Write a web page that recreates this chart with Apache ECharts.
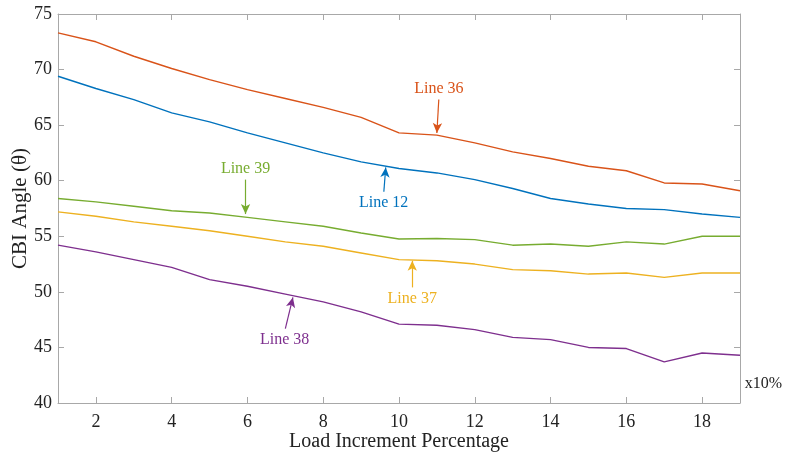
<!DOCTYPE html>
<html lang="en">
<head>
    <meta charset="UTF-8">
    <title>CBI Angle</title>
    <style>
        body{ margin:0; background:#fff; }
        #main{ width:785px; height:457px; }
    </style>
</head>
<body>
<div id="main"></div>
<script src="https://cdn.jsdelivr.net/npm/echarts@6/dist/echarts.min.js"></script>
<script>
    // x: load increment (x10%)
    var steps = [1,2,3,4,5,6,7,8,9,10,11,12,13,14,15,16,17,18,19];
    var line36 = [73.3,72.5,71.2,70.1,69.1,68.2,67.4,66.6,65.7,64.3,64.1,63.4,62.6,62.0,61.3,60.9,59.8,59.7,59.1];
    var line12 = [69.4,68.3,67.3,66.1,65.3,64.3,63.4,62.5,61.7,61.1,60.7,60.1,59.3,58.4,57.9,57.5,57.4,57.0,56.7];
    var line39 = [58.4,58.1,57.7,57.3,57.1,56.7,56.3,55.9,55.3,54.75,54.8,54.7,54.2,54.3,54.1,54.5,54.3,55.0,55.0];
    var line37 = [57.2,56.8,56.3,55.9,55.5,55.0,54.5,54.1,53.5,52.9,52.8,52.5,52.0,51.9,51.6,51.7,51.3,51.7,51.7];
    var line38 = [54.2,53.6,52.9,52.2,51.1,50.5,49.8,49.1,48.2,47.1,47.0,46.6,45.9,45.7,45.0,44.9,43.7,44.5,44.3];

    var names  = ['Line 36','Line 12','Line 39','Line 37','Line 38'];
    var colors = ['#D95319','#0072BD','#77AC30','#EDB120','#7E2F8E'];
    // arrow [x, yFrom, xTo, yTo] for each label, label is drawn at the arrow's start
    var arrows = [
        [11.05, 67.3, 11.0, 64.3],
        [9.6, 59.0, 9.65, 61.2],
        [5.95, 60.1, 5.95, 57.0],
        [10.35, 50.4, 10.35, 52.8],
        [7.0, 46.7, 7.2, 49.5]
    ];

    var font = '"Liberation Serif", "Times New Roman", serif';
    var mychart = echarts.init(document.getElementById("main"));

    var all = [line36, line12, line39, line37, line38];
    var series = [];
    for (var i = 0; i < all.length; i++) {
        var pts = [];
        for (var j = 0; j < steps.length; j++) {
            pts.push([steps[j], all[i][j]]);
        }
        var a = arrows[i];
        series.push({
            name: names[i],
            type: 'line',
            data: pts,
            showSymbol: false,
            symbol: 'none',
            lineStyle: {color: colors[i], width: 1.4},
            itemStyle: {color: colors[i]},
            z: 3,
            markLine: {
                silent: true,
                symbol: ['none', 'arrow'],
                symbolSize: [7, 10],
                lineStyle: {color: colors[i], width: 1.2, type: 'solid'},
                label: {
                    show: true,
                    position: 'start',
                    formatter: names[i],
                    color: colors[i],
                    fontFamily: font,
                    fontSize: 16,
                    distance: 3
                },
                data: [[{coord: [a[0], a[1]]}, {coord: [a[2], a[3]]}]]
            }
        });
    }

    var boxLine = {show: true, lineStyle: {color: '#a8a8a8', width: 1}};
    var option = {
        animation: false,
        backgroundColor: '#fff',
        grid: {left: 58, right: 45, top: 14, bottom: 54, containLabel: false, outerBoundsMode: 'none'},
        graphic: [{
            type: 'text',
            right: 3,
            top: 376,
            style: {text: 'x10%', font: '16px ' + font, fill: '#222'}
        }],
        xAxis: [{
            type: 'value',
            min: 1,
            max: 19,
            splitNumber: 9,
            name: 'Load Increment Percentage',
            nameLocation: 'middle',
            nameGap: 29,
            nameMoveOverlap: false,
            nameTextStyle: {fontFamily: font, fontSize: 20, color: '#222'},
            axisLine: boxLine,
            axisTick: {show: true, inside: true, length: 6, lineStyle: {color: '#a8a8a8'}},
            axisLabel: {fontFamily: font, fontSize: 18, color: '#222', margin: 10, showMinLabel: false, showMaxLabel: false},
            splitLine: {show: false}
        }, {
            type: 'value',
            position: 'top',
            min: 1,
            max: 19,
            splitNumber: 9,
            axisLine: boxLine,
            axisTick: {show: true, inside: true, length: 6, lineStyle: {color: '#a8a8a8'}},
            axisLabel: {show: false},
            splitLine: {show: false}
        }],
        yAxis: [{
            type: 'value',
            min: 40,
            max: 75,
            interval: 5,
            name: 'CBI Angle (\u03b8)',
            nameLocation: 'middle',
            nameGap: 27,
            nameMoveOverlap: false,
            nameTextStyle: {fontFamily: font, fontSize: 21, color: '#222'},
            axisLine: boxLine,
            axisTick: {show: true, inside: true, length: 6, lineStyle: {color: '#a8a8a8'}},
            axisLabel: {fontFamily: font, fontSize: 18, color: '#222', margin: 6},
            splitLine: {show: false}
        }, {
            type: 'value',
            position: 'right',
            min: 40,
            max: 75,
            interval: 5,
            axisLine: boxLine,
            axisTick: {show: true, inside: true, length: 6, lineStyle: {color: '#a8a8a8'}},
            axisLabel: {show: false},
            splitLine: {show: false}
        }],
        series: series
    };
    mychart.setOption(option);
</script>
</body>
</html>
